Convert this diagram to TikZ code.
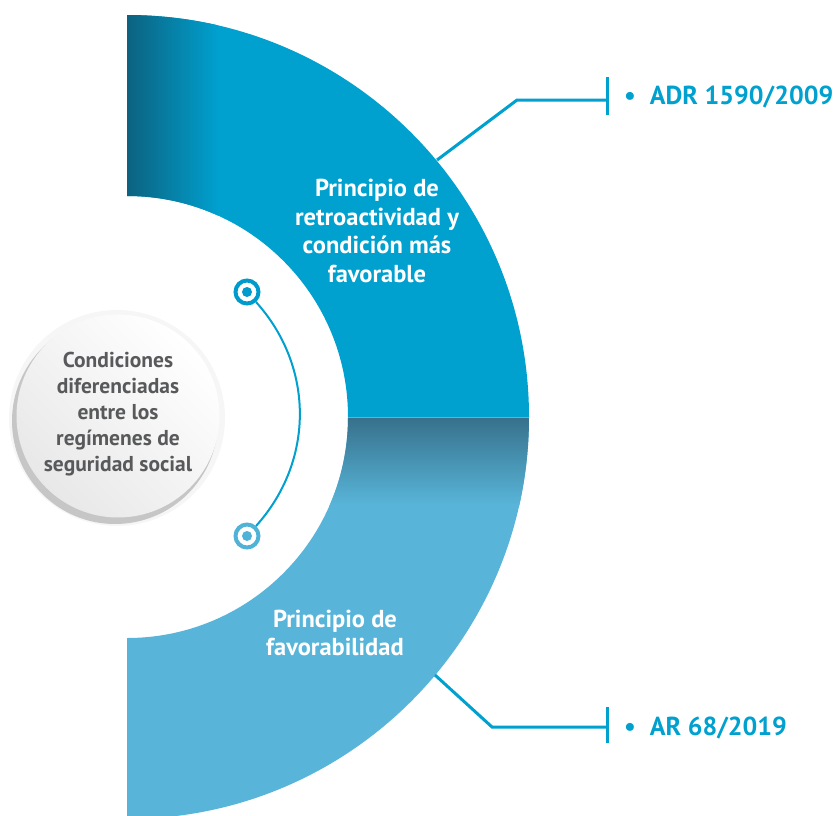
\documentclass[tikz,border=0pt]{standalone}
\usepackage{fontspec}
\setmainfont{PT Sans}
\definecolor{up}{RGB}{0,160,207}
\definecolor{updark}{RGB}{12,98,128}
\definecolor{low}{RGB}{88,181,217}
\definecolor{lowdark}{RGB}{55,113,140}
\definecolor{cblue}{RGB}{0,160,207}
\definecolor{mtop}{RGB}{0,155,205}
\definecolor{mbot}{RGB}{80,178,215}
\definecolor{graytext}{RGB}{88,89,91}
\begin{document}
\begin{tikzpicture}[x=1pt,y=-1pt,
  bandtext/.style={text=white, font=\bfseries\fontsize{24.5}{28.5}\selectfont, align=center, inner sep=0pt},
  circtext/.style={text=graytext, font=\bfseries\fontsize{21.5}{26}\selectfont, align=center, inner sep=0pt},
  reftext/.style={text=cblue, font=\bfseries\fontsize{26}{30}\selectfont, inner sep=0pt},
  marker/.style={circle, draw, line width=4pt, minimum size=23pt, inner sep=0pt, fill=white},
  conn/.style={draw=cblue, line width=3pt},
  arcline/.style={draw=cblue, line width=2pt}]
\useasboundingbox (0,0) rectangle (838,816);
% upper band
\fill[up] (127,15) arc (-90:0:402) -- (348,417) arc (0:-90:221) -- cycle;
\begin{scope}
  \clip (127,15) arc (-90:0:402) -- (348,417) arc (0:-90:221) -- cycle;
  \shade[left color=updark, right color=up] (127,0) rectangle (218,420);
\end{scope}
% lower band
\fill[low] (529,417) arc (0:90:402) -- (127,638) arc (90:0:221) -- cycle;
\begin{scope}
  \clip (529,417) arc (0:90:402) -- (127,638) arc (90:0:221) -- cycle;
  \shade[top color=lowdark, bottom color=low] (100,418) rectangle (540,505);
\end{scope}
% band texts
\node[bandtext] (ut) at (377,231) {Principio de\\retroactividad y\\condición más\\favorable};
\node[bandtext] (lt) at (335,633) {Principio de\\favorabilidad};
% central circle
\fill[gray!7] (117,418) circle (108);
\fill[gray!45] (115,421) circle (103);
\node[circle, minimum size=203pt, inner sep=0pt, left color=white, right color=gray!18, shading angle=-45] (cc) at (118,416) {};
\node[circtext] (ct) at (118,414) {Condiciones\\diferenciadas\\entre los\\regímenes de\\seguridad social};
% markers and arc
\node[marker, draw=mtop] (m1) at (247,292) {};
\node[marker, draw=mbot] (m2) at (247,536) {};
\fill[mtop] (m1.center) circle (5pt);
\fill[mbot] (m2.center) circle (5pt);
\draw[arcline] (m1) to[bend left=42] (m2);
% upper reference
\coordinate (u0) at (437,160);
\coordinate (u1) at (517,100);
\coordinate (u2) at (607,100);
\coordinate (u2t) at (607,77);
\coordinate (u2b) at (607,115);
\draw[conn] (u0) -- (u1) -- (u2);
\draw[conn] (u2t) -- (u2b);
\node[reftext, anchor=base west] (r1) at (624,104) {•\hspace{14pt}ADR 1590/2009};
% lower reference
\coordinate (d0) at (435,675);
\coordinate (d1) at (492,727);
\coordinate (d2) at (607,727);
\coordinate (d2t) at (607,707);
\coordinate (d2b) at (607,743);
\draw[conn] (d0) -- (d1) -- (d2);
\draw[conn] (d2t) -- (d2b);
\node[reftext, anchor=base west] (r2) at (624,735) {•\hspace{14pt}AR 68/2019};
\end{tikzpicture}
\end{document}
